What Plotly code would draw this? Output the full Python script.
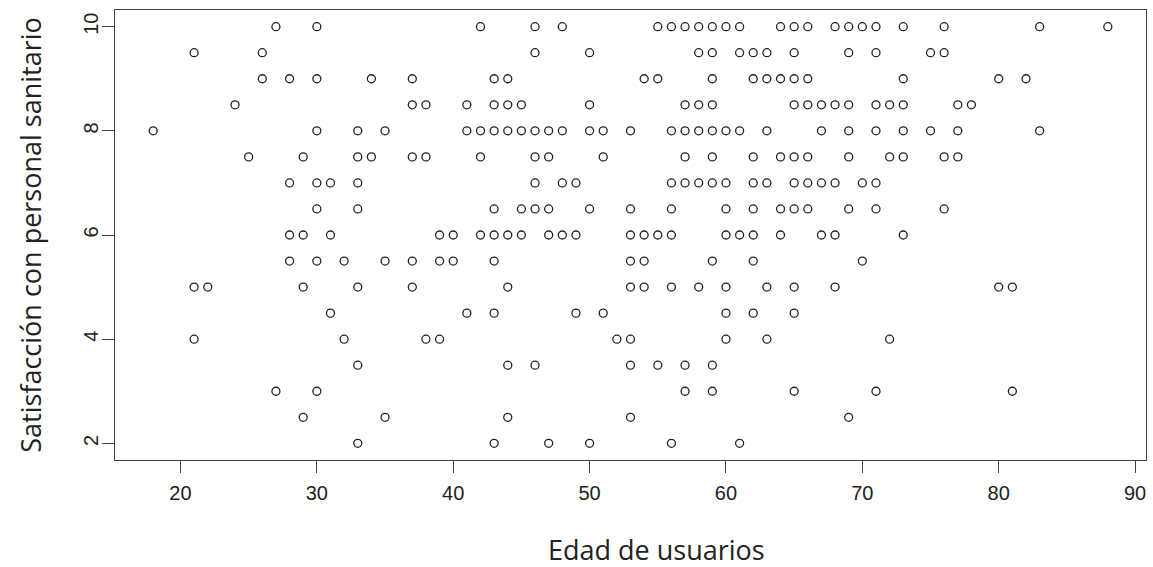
import plotly.graph_objects as go

# Data (age, satisfaction), grouped by age
edad = [
    18,
    21, 21, 21,
    22,
    24,
    25,
    26, 26,
    27, 27,
    28, 28, 28, 28,
    29, 29, 29, 29,
    30, 30, 30, 30, 30, 30, 30,
    31, 31, 31,
    32, 32,
    33, 33, 33, 33, 33, 33, 33,
    34, 34,
    35, 35, 35,
    37, 37, 37, 37, 37,
    38, 38, 38,
    39, 39, 39,
    40, 40,
    41, 41, 41,
    42, 42, 42, 42,
    43, 43, 43, 43, 43, 43, 43, 43,
    44, 44, 44, 44, 44, 44, 44,
    45, 45, 45, 45,
    46, 46, 46, 46, 46, 46, 46,
    47, 47, 47, 47, 47,
    48, 48, 48, 48,
    49, 49, 49,
    50, 50, 50, 50, 50,
    51, 51, 51,
    52,
    53, 53, 53, 53, 53, 53, 53, 53,
    54, 54, 54, 54,
    55, 55, 55, 55,
    56, 56, 56, 56, 56, 56, 56,
    57, 57, 57, 57, 57, 57, 57,
    58, 58, 58, 58, 58, 58,
    59, 59, 59, 59, 59, 59, 59, 59, 59, 59,
    60, 60, 60, 60, 60, 60, 60, 60,
    61, 61, 61, 61, 61,
    62, 62, 62, 62, 62, 62, 62, 62,
    63, 63, 63, 63, 63, 63,
    64, 64, 64, 64, 64,
    65, 65, 65, 65, 65, 65, 65, 65, 65, 65,
    66, 66, 66, 66, 66, 66,
    67, 67, 67, 67,
    68, 68, 68, 68, 68,
    69, 69, 69, 69, 69, 69, 69,
    70, 70, 70,
    71, 71, 71, 71, 71, 71, 71,
    72, 72, 72,
    73, 73, 73, 73, 73, 73,
    75, 75,
    76, 76, 76, 76,
    77, 77, 77,
    78,
    80, 80,
    81, 81,
    82,
    83, 83,
    88,
]

satisfaccion = [
    8,
    9.5, 5, 4,
    5,
    8.5,
    7.5,
    9.5, 9,
    10, 3,
    9, 7, 6, 5.5,
    7.5, 6, 5, 2.5,
    10, 9, 8, 7, 6.5, 5.5, 3,
    7, 6, 4.5,
    5.5, 4,
    8, 7.5, 7, 6.5, 5, 3.5, 2,
    9, 7.5,
    8, 5.5, 2.5,
    9, 8.5, 7.5, 5.5, 5,
    8.5, 7.5, 4,
    6, 5.5, 4,
    6, 5.5,
    8.5, 8, 4.5,
    10, 8, 7.5, 6,
    9, 8.5, 8, 6.5, 6, 5.5, 4.5, 2,
    9, 8.5, 8, 6, 5, 3.5, 2.5,
    8.5, 8, 6.5, 6,
    10, 9.5, 8, 7.5, 7, 6.5, 3.5,
    8, 7.5, 6.5, 6, 2,
    10, 8, 7, 6,
    7, 6, 4.5,
    9.5, 8.5, 8, 6.5, 2,
    8, 7.5, 4.5,
    4,
    8, 6.5, 6, 5.5, 5, 4, 3.5, 2.5,
    9, 6, 5.5, 5,
    10, 9, 6, 3.5,
    10, 8, 7, 6.5, 6, 5, 2,
    10, 8.5, 8, 7.5, 7, 3.5, 3,
    10, 9.5, 8.5, 8, 7, 5,
    10, 9.5, 9, 8.5, 8, 7.5, 7, 5.5, 3.5, 3,
    10, 8, 7, 6.5, 6, 5, 4.5, 4,
    10, 9.5, 8, 6, 2,
    9.5, 9, 7.5, 7, 6.5, 6, 5.5, 4.5,
    9.5, 9, 8, 7, 5, 4,
    10, 9, 7.5, 6.5, 6,
    10, 9.5, 9, 8.5, 7.5, 7, 6.5, 5, 4.5, 3,
    10, 9, 8.5, 7.5, 7, 6.5,
    8.5, 8, 7, 6,
    10, 8.5, 7, 6, 5,
    10, 9.5, 8.5, 8, 7.5, 6.5, 2.5,
    10, 7, 5.5,
    10, 9.5, 8.5, 8, 7, 6.5, 3,
    8.5, 7.5, 4,
    10, 9, 8.5, 8, 7.5, 6,
    9.5, 8,
    10, 9.5, 7.5, 6.5,
    8.5, 8, 7.5,
    8.5,
    9, 5,
    5, 3,
    9,
    10, 8,
    10,
]

x_ticks = [20, 30, 40, 50, 60, 70, 80, 90]
y_ticks = [2, 4, 6, 8, 10]

x_title = "Edad de usuarios"
y_title = "Satisfacción con personal sanitario"

fig = go.Figure()
fig.add_trace(go.Scatter(
    x=edad, y=satisfaccion, mode="markers",
    marker=dict(symbol="circle-open", size=8, color="#222222",
                line=dict(width=1.3, color="#222222")),
    showlegend=False, hoverinfo="x+y",
))

axis_common = dict(
    showline=True, linecolor="#444444", linewidth=1.3, mirror=True,
    showgrid=False, zeroline=False,
    ticks="outside", ticklen=12, tickwidth=1.3, tickcolor="#444444",
    tickfont=dict(family="Liberation Sans, Arial, sans-serif", size=20, color="#222222"),
)

title_font = dict(family="Open Sans, sans-serif", size=27, color="#222222")

xmin, xmax = min(edad), max(edad)
ymin, ymax = min(satisfaccion), max(satisfaccion)
xpad = 0.04 * (xmax - xmin)
ypad = 0.04 * (ymax - ymin)

fig.update_layout(
    width=1153, height=567,
    margin=dict(l=115, r=7, t=10, b=107),
    paper_bgcolor="white", plot_bgcolor="white",
    xaxis=dict(
        range=[xmin - xpad, xmax + xpad], tickvals=x_ticks,
        ticklabelstandoff=3,
        **axis_common,
    ),
    yaxis=dict(
        range=[ymin - ypad, ymax + ypad], tickvals=y_ticks, tickangle=-90,
        ticklabelstandoff=-4,
        title=dict(text=y_title, standoff=30, font=title_font),
        **axis_common,
    ),
    annotations=[dict(
        text=x_title, xref="paper", yref="paper", x=0.525, y=-0.198,
        xanchor="center", yanchor="middle", showarrow=False, font=title_font,
    )],
)

fig.write_html("out.html", config={"displayModeBar": False},
               post_script="document.body.style.margin='0';")
